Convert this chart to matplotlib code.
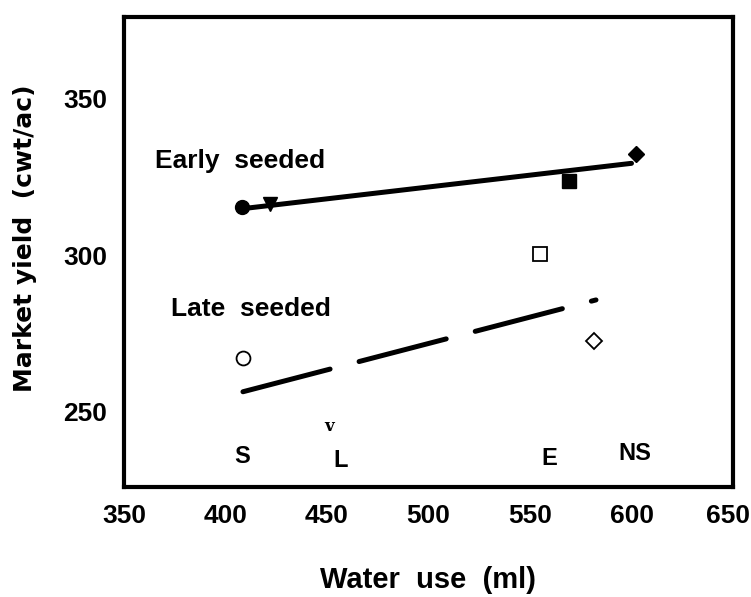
import matplotlib.pyplot as plt
from matplotlib.transforms import ScaledTranslation

plt.rcParams['font.family'] = ['Liberation Sans', 'DejaVu Sans']
plt.rcParams['font.weight'] = 'bold'

# early seeded treatments (filled markers)
early_x = [408, 422, 569, 602]
early_y = [315.3, 316.2, 323.6, 332.2]
early_marker = ['o', 'v', 's', 'D']
early_fit_x = [408, 600]
early_fit_y = [314.8, 329.3]

# late seeded treatments (open markers)
late_x = [408.6, 555, 581.5]
late_y = [267.2, 300.3, 272.6]
late_marker = ['o', 's', 'D']
late_v = (451, 245.2)  # shown as a small "v" in the original
late_fit_x = [408.6, 582.5]
late_fit_y = [256.4, 285.7]

# treatment labels
trt_names = ['S', 'L', 'E', 'NS']
trt_x = [408, 456.5, 559.5, 601.5]
trt_y = [235.7, 234.4, 235, 236.6]

W, H = 751, 597
fig = plt.figure(figsize=(W / 100, H / 100), dpi=100)
ax = fig.add_axes([124 / W, 1 - 487 / H, (733 - 124) / W, (487 - 17) / H])

ax.plot(early_fit_x, early_fit_y, color='black', lw=3.6, solid_capstyle='round')
for x, y, m in zip(early_x, early_y, early_marker):
    ax.plot(x, y, marker=m, color='black', markersize=10 if m != 'D' else 8, ls='none')

ax.plot(late_fit_x, late_fit_y, color='black', lw=3.6,
        linestyle=(0, (18, 6)), dash_capstyle='round')
for x, y, m in zip(late_x, late_y, late_marker):
    ax.plot(x, y, marker=m, mfc='white', mec='black', mew=1.3,
            markersize=10 if m != 'D' else 8, ls='none')
ax.text(late_v[0], late_v[1], 'v', family='DejaVu Serif', fontsize=12,
        fontweight='bold', ha='center', va='center')

for n, x, y in zip(trt_names, trt_x, trt_y):
    ax.text(x, y, n, fontsize=17, ha='center', va='center')

ax.text(365.5, 330, 'Early  seeded', fontsize=19, ha='left', va='center')
ax.text(373, 282.8, 'Late  seeded', fontsize=19, ha='left', va='center')

ax.set_xlim(350, 650)
ax.set_ylim(226, 376)
ax.set_xticks([350, 400, 450, 500, 550, 600, 650])
ax.set_yticks([250, 300, 350])
ax.tick_params(axis='x', length=0, labelsize=19, pad=12)
ax.tick_params(axis='y', length=0, labelsize=19, pad=12)
for lbl in ax.get_xticklabels() + ax.get_yticklabels():
    lbl.set_fontweight('bold')
last = ax.get_xticklabels()[-1]
last.set_transform(last.get_transform() + ScaledTranslation(-0.05, 0, fig.dpi_scale_trans))
for s in ax.spines.values():
    s.set_linewidth(3)

fig.text(428 / W, 1 - 580 / H, 'Water  use  (ml)', fontsize=21,
         fontweight='bold', ha='center', va='center')
fig.text(25 / W, 1 - 238 / H, 'Market yield  (cwt/ac)', fontsize=18,
         family='DejaVu Sans', fontweight='bold', ha='center', va='center',
         rotation=90)

fig.savefig('out.png', dpi=100)
